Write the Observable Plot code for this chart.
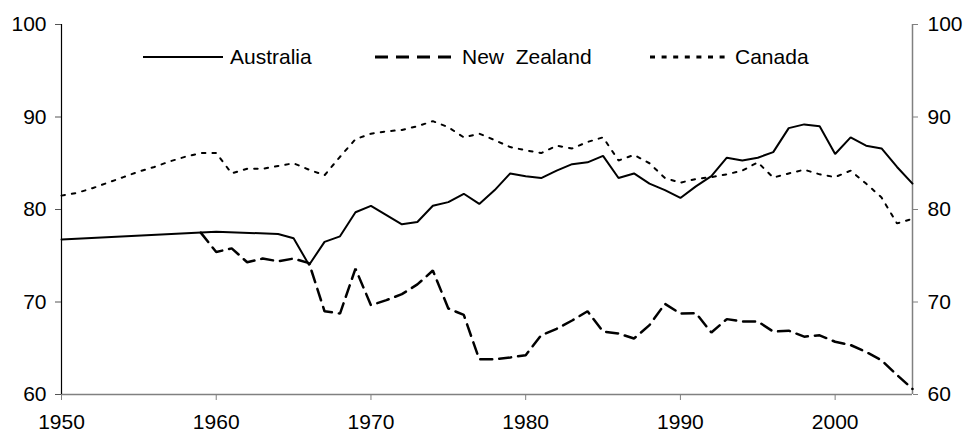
<!DOCTYPE html>
<html>
<head>
<meta charset="utf-8">
<script src="https://cdn.jsdelivr.net/npm/d3@7"></script>
<script src="https://cdn.jsdelivr.net/npm/@observablehq/plot@0.6"></script>
<style>
  html, body { margin: 0; padding: 0; background: #fff; }
  #wrap { position: relative; width: 965px; height: 435px; font-family: "Liberation Sans", Arial, sans-serif; }
  .leg { position: absolute; top: 44px; height: 26px; display: flex; align-items: center; font-size: 21px; color: #000; white-space: pre; }
  .leg svg { margin-right: 7px; }
</style>
</head>
<body>
<div id="wrap"></div>
<script>
// ---- data ----
const australiaYears = [1950, 1960, 1964, 1965, 1966, 1967, 1968, 1969, 1970, 1971, 1972, 1973, 1974, 1975, 1976, 1977, 1978, 1979, 1980, 1981, 1982, 1983, 1984, 1985, 1986, 1987, 1988, 1989, 1990, 1991, 1992, 1993, 1994, 1995, 1996, 1997, 1998, 1999, 2000, 2001, 2002, 2003, 2004, 2005];
const australiaValues = [76.75, 77.6, 77.35, 76.9, 74.0, 76.5, 77.1, 79.7, 80.4, 79.4, 78.4, 78.65, 80.4, 80.8, 81.7, 80.6, 82.1, 83.9, 83.6, 83.4, 84.2, 84.9, 85.1, 85.8, 83.4, 83.9, 82.8, 82.1, 81.25, 82.5, 83.6, 85.6, 85.3, 85.6, 86.2, 88.8, 89.2, 89.0, 86.0, 87.8, 86.9, 86.6, 84.6, 82.8];

const nzYears = [1959, 1960, 1961, 1962, 1963, 1964, 1965, 1966, 1967, 1968, 1969, 1970, 1971, 1972, 1973, 1974, 1975, 1976, 1977, 1978, 1979, 1980, 1981, 1982, 1983, 1984, 1985, 1986, 1987, 1988, 1989, 1990, 1991, 1992, 1993, 1994, 1995, 1996, 1997, 1998, 1999, 2000, 2001, 2002, 2003, 2004, 2005];
const nzValues = [77.5, 75.4, 75.8, 74.3, 74.7, 74.4, 74.7, 74.2, 69.0, 68.75, 73.6, 69.65, 70.2, 70.85, 71.9, 73.4, 69.3, 68.6, 63.8, 63.8, 64.0, 64.25, 66.4, 67.1, 68.0, 69.0, 66.8, 66.6, 66.05, 67.5, 69.8, 68.75, 68.8, 66.7, 68.15, 67.9, 67.9, 66.8, 66.9, 66.25, 66.4, 65.7, 65.35, 64.6, 63.7, 62.1, 60.6];

const canadaYears = d3.range(1950, 2006);
const canadaValues = [81.5, 81.8, 82.3, 82.9, 83.5, 84.1, 84.6, 85.2, 85.7, 86.1, 86.1, 83.9, 84.4, 84.4, 84.7, 85.0, 84.3, 83.7, 85.7, 87.6, 88.2, 88.45, 88.6, 89.0, 89.55, 88.9, 87.8, 88.2, 87.5, 86.75, 86.4, 86.1, 86.9, 86.6, 87.3, 87.8, 85.3, 85.9, 85.0, 83.4, 82.9, 83.3, 83.5, 83.8, 84.2, 85.1, 83.45, 83.9, 84.3, 83.8, 83.5, 84.2, 82.8, 81.3, 78.5, 79.0];

const seriesNames = ["Australia", "New  Zealand", "Canada"];
const xTicks = [1950, 1960, 1970, 1980, 1990, 2000];
const yTicks = [60, 70, 80, 90, 100];
const xDomain = [1950, 2005];
const yDomain = [60, 100];

// ---- build tables ----
const australia = australiaYears.map((y, i) => ({year: y, value: australiaValues[i]}));
const nz = nzYears.map((y, i) => ({year: y, value: nzValues[i]}));
const canada = canadaYears.map((y, i) => ({year: y, value: canadaValues[i]}));

const styles = [
  {stroke: "#000", strokeWidth: 2, dash: null},
  {stroke: "#000", strokeWidth: 2.5, dash: "12,7"},
  {stroke: "#000", strokeWidth: 2, dash: "3.5,7"}
];

const plot = Plot.plot({
  width: 965,
  height: 435,
  marginLeft: 61,
  marginRight: 53,
  marginTop: 24,
  marginBottom: 41,
  style: {fontFamily: "'Liberation Sans', Arial, sans-serif", fontSize: "21px", background: "#fff", color: "#000"},
  x: {domain: xDomain},
  y: {domain: yDomain},
  marks: [
    Plot.ruleY([yDomain[0]], {stroke: "#808080", strokeWidth: 1.5}),
    Plot.ruleX([xDomain[1]], {stroke: "#808080", strokeWidth: 1.5}),
    Plot.ruleX([xDomain[0]], {stroke: "#000", strokeWidth: 1.2}),
    Plot.axisX({ticks: xTicks, tickFormat: d => String(d), tickSize: 6, tickPadding: 14, stroke: "#808080", fill: "#000", label: null, fontSize: 21}),
    Plot.axisY({anchor: "left", ticks: yTicks, tickSize: 6, tickPadding: 9, stroke: "#555", fill: "#000", label: null, fontSize: 21}),
    Plot.axisY({anchor: "right", ticks: yTicks, tickSize: 5, tickPadding: 10, stroke: "#808080", fill: "#000", label: null, fontSize: 21}),
    Plot.line(canada, {x: "year", y: "value", stroke: styles[2].stroke, strokeWidth: styles[2].strokeWidth, strokeDasharray: styles[2].dash, strokeLinejoin: "miter"}),
    Plot.line(nz, {x: "year", y: "value", stroke: styles[1].stroke, strokeWidth: styles[1].strokeWidth, strokeDasharray: styles[1].dash, strokeLinejoin: "miter"}),
    Plot.line(australia, {x: "year", y: "value", stroke: styles[0].stroke, strokeWidth: styles[0].strokeWidth, strokeLinejoin: "miter"})
  ]
});

const wrap = document.getElementById("wrap");
wrap.appendChild(plot);

// ---- legend (overlaid inside the plot area, as in the reference) ----
const legendLeft = [143, 375, 650];
const legendSwatch = [
  {w: 80, width: 2, dash: null},
  {w: 80, width: 3, dash: "13,8"},
  {w: 78, width: 3, dash: "5,6.6"}
];
seriesNames.forEach((name, i) => {
  const div = document.createElement("div");
  div.className = "leg";
  div.style.left = legendLeft[i] + "px";
  const s = legendSwatch[i];
  div.innerHTML = `<svg width="${s.w}" height="10"><line x1="0" x2="${s.w}" y1="5" y2="5" stroke="#000" stroke-width="${s.width}" ${s.dash ? `stroke-dasharray="${s.dash}"` : ""}/></svg><span>${name}</span>`;
  wrap.appendChild(div);
});
</script>
</body>
</html>
